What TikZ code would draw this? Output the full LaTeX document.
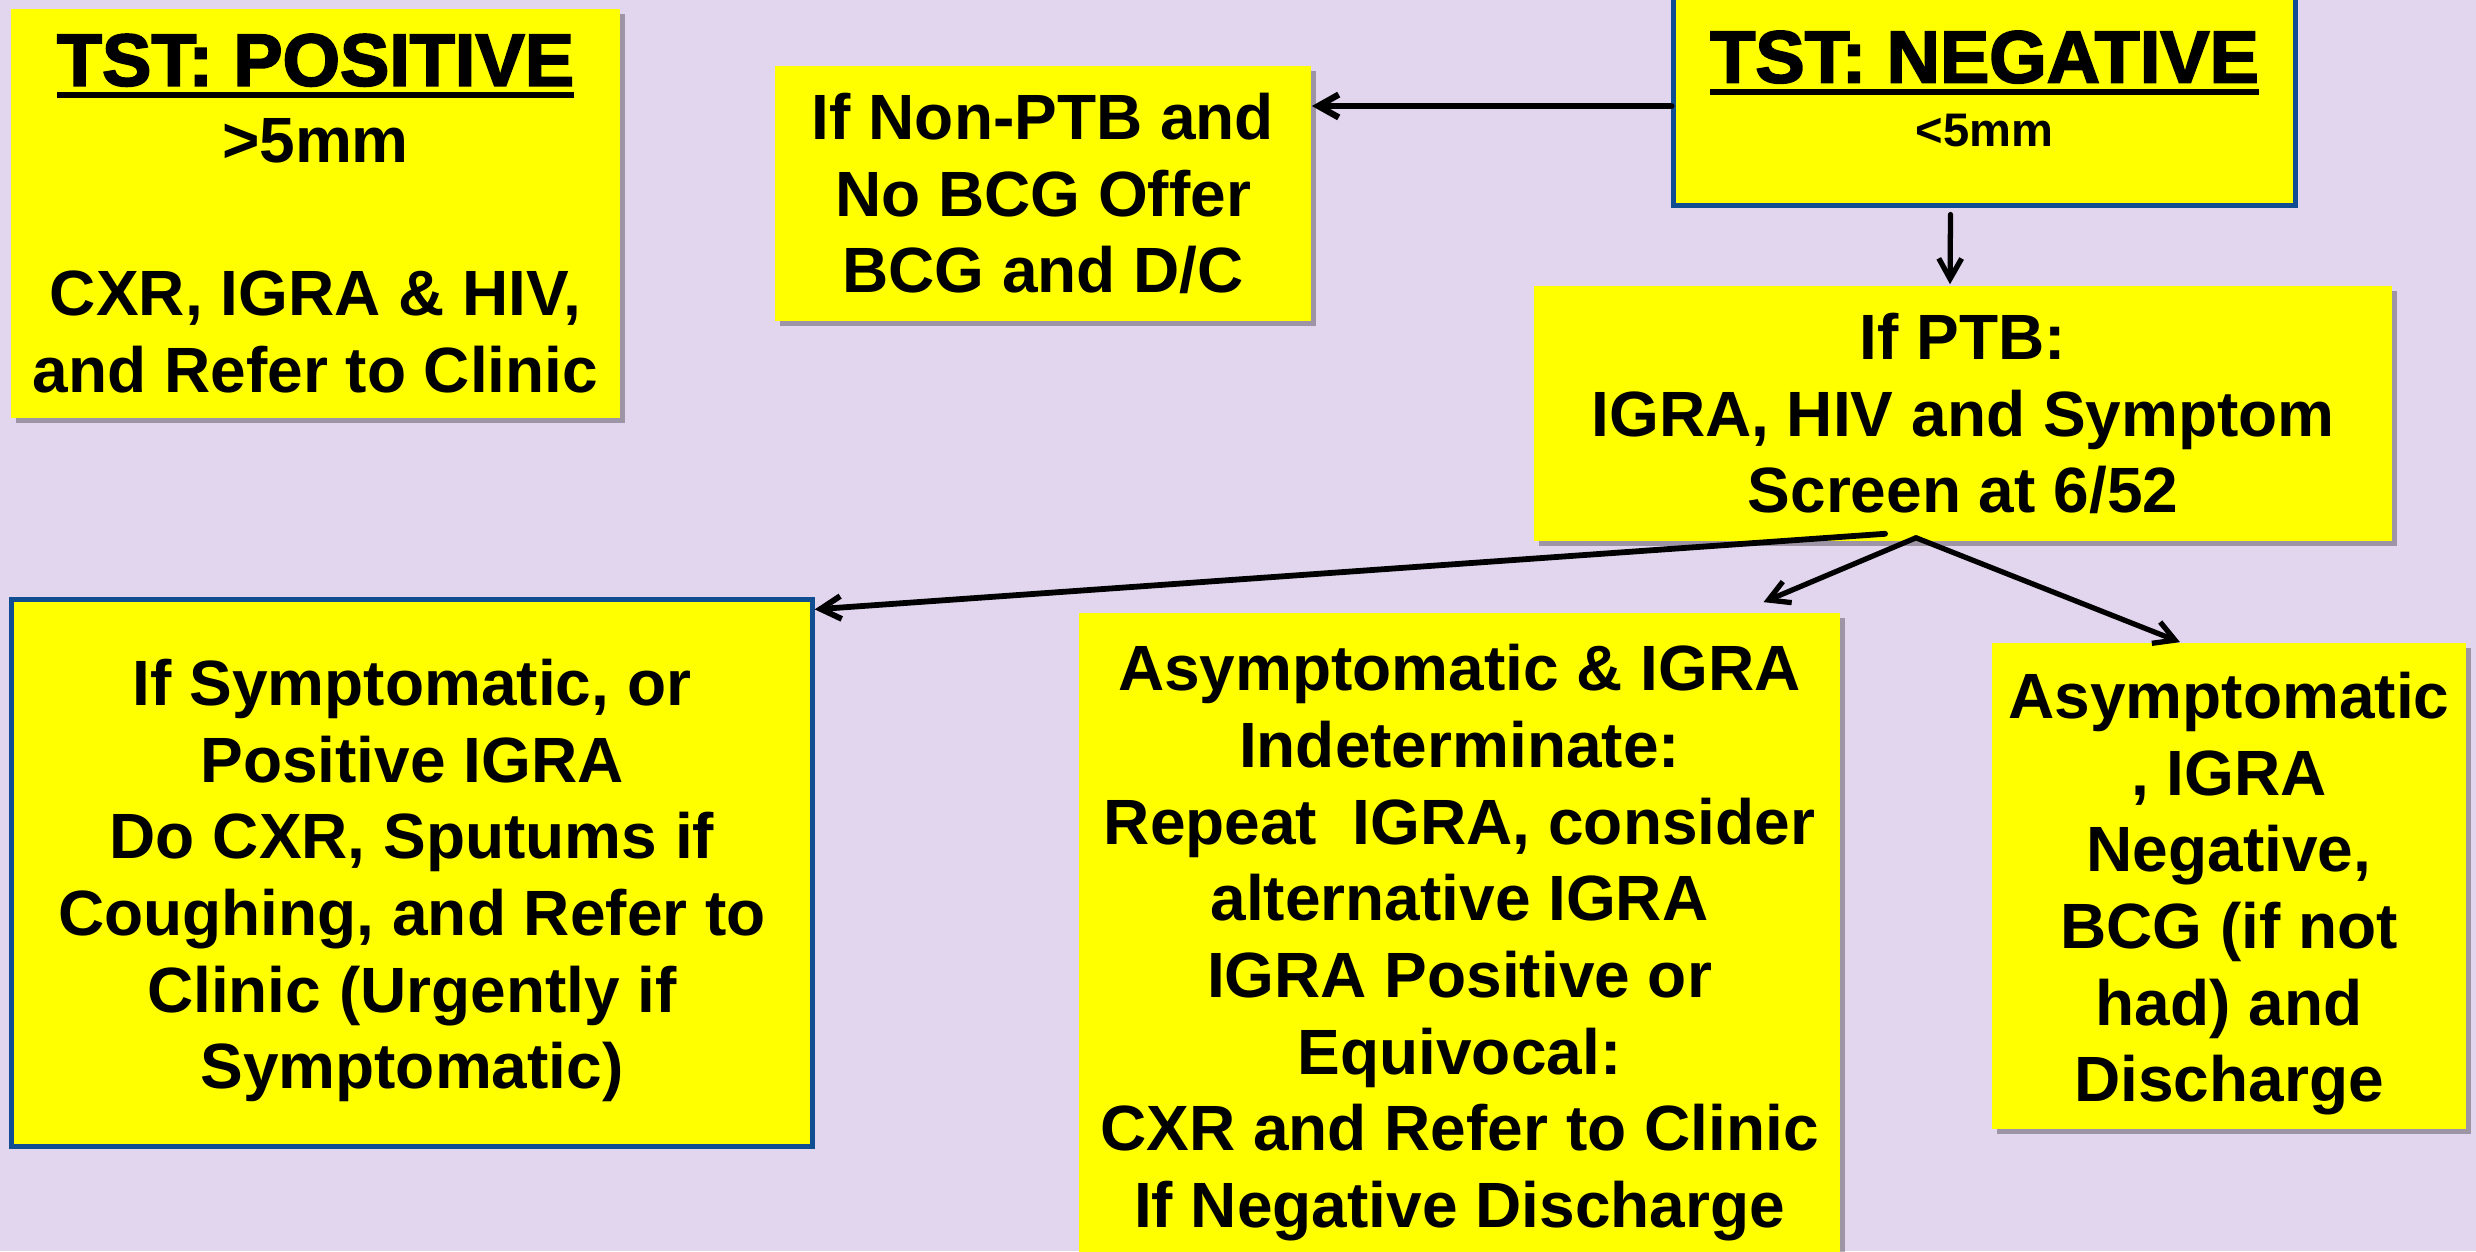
\documentclass[tikz,border=0pt]{standalone}
\usepackage{fontspec}
\setmainfont{Liberation Sans}
\newfontfamily\heavyfont{Liberation Sans Bold}[FakeBold=2.5]
\usetikzlibrary{positioning,calc,shadows,arrows.meta}
\definecolor{lavender}{HTML}{E2D5EE}
\definecolor{boxyellow}{HTML}{FFFF00}
\definecolor{edgeblue}{HTML}{104E91}
\newcommand{\headline}[1]{{\heavyfont\fontsize{21}{24}\selectfont\setbox0\hbox{#1}\rlap{\rule[-3.6pt]{\wd0}{1.7pt}}\box0}}
\newcommand{\lift}{\rule{0pt}{17.6pt}}
\tikzset{
  card/.style={fill=boxyellow, inner sep=0pt, align=center, font=\bfseries\fontsize{18.2}{21.8}\selectfont},
  plaincard/.style={card, drop shadow={shadow xshift=1.4pt, shadow yshift=-1.4pt, fill=black, opacity=0.3}},
  bluecard/.style={card, draw=edgeblue, line width=1.4pt},
  arr/.style={-{Straight Barb[length=5.8pt,width=6.5pt]}, line width=1.5pt, line cap=round}
}
\begin{document}
\begin{tikzpicture}[x=0.01cm, y=-0.01cm]
  \fill[lavender] (0,0) rectangle (2476,1251);
  \useasboundingbox (0,0) rectangle (2476,1251);
  % top row
  \node[plaincard, minimum width=6.09cm, minimum height=4.09cm] (A) at (315.5,213.5)
    {\headline{TST: POSITIVE}\\ >5mm\\[\baselineskip] CXR, IGRA \& HIV,\\ and Refer to Clinic};
  \node[plaincard, minimum width=5.36cm, minimum height=2.55cm] (B) at (1043,193.5)
    {If Non-PTB and\\ No BCG Offer\\ BCG and D/C};
  \node[bluecard, minimum width=6.21cm, minimum height=2.32cm] (C) at (1984.5,89)
    {\headline{TST: NEGATIVE}\\[-3.6pt] {\fontsize{13.4}{16}\selectfont <5mm}};
  \node[plaincard, minimum width=8.58cm, minimum height=2.55cm] (D) at (1963,413.5)
    {If PTB:\\ IGRA, HIV and Symptom\\ Screen at 6/52};
  % bottom row
  \node[bluecard, minimum width=8.00cm, minimum height=5.46cm] (E) at (412,873)
    {\lift If Symptomatic, or\\ Positive IGRA\\ Do CXR, Sputums if\\ Coughing, and Refer to\\ Clinic (Urgently if\\ Symptomatic)};
  \node[plaincard, minimum width=7.61cm, minimum height=6.44cm] (F) at (1459.5,935)
    {\lift Asymptomatic \& IGRA\\ Indeterminate:\\ Repeat~ IGRA, consider\\ alternative IGRA\\ IGRA Positive or\\ Equivocal:\\ CXR and Refer to Clinic\\ If Negative Discharge};
  \node[plaincard, minimum width=4.74cm, minimum height=4.86cm] (G) at (2229,886)
    {\lift Asymptomatic\\ , IGRA\\ Negative,\\ BCG (if not\\ had) and\\ Discharge};
  % connectors
  \draw[arr, line width=1.8pt] ($(C.west)+(0,17)$) coordinate (cw) -- (B.east |- cw);
  \draw[arr] ($(C.south)+(-34,7)$) -- ($(D.north)+(-13,-1)$);
  \coordinate (fork) at ($(D.south)+(-47,-4)$);
  \coordinate (forkL) at ($(D.south)+(-78,-8)$);
  \draw[arr, line width=1.65pt] (forkL) -- ($(E.north east)+(0,12)$);
  \draw[arr] (fork) -- ($(F.north)+(304,-10)$);
  \draw[arr] (fork) -- ($(G.north)+(-49,0)$);
\end{tikzpicture}
\end{document}
